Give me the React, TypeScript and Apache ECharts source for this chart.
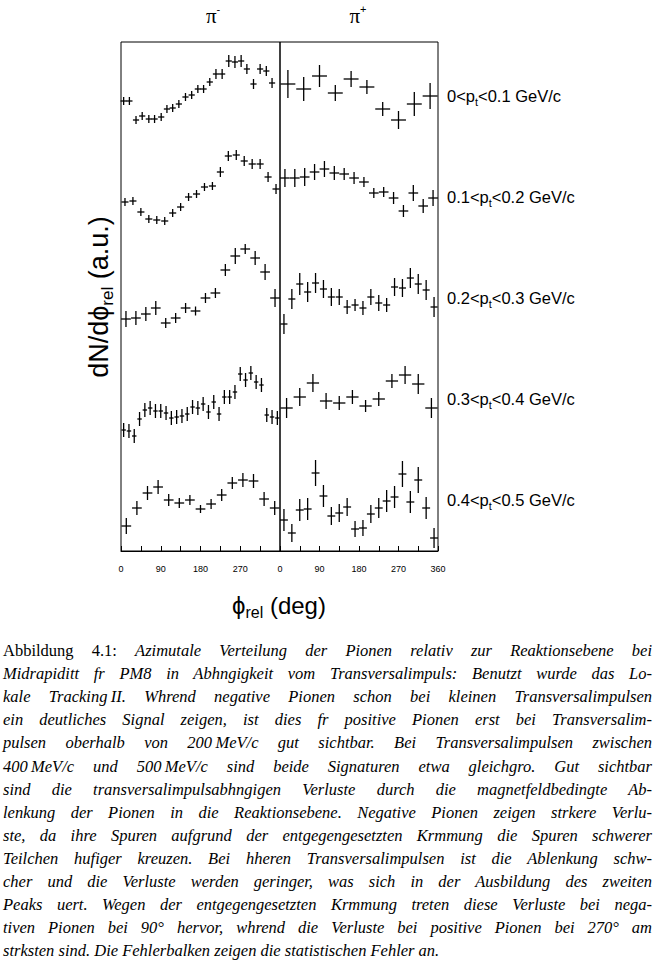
import React, { useEffect, useRef } from 'react';
import * as echarts from 'echarts';

// ---------- axis ----------
const xMin = 0;
const xMax = 360;
const xTickInterval = 45;
const yMax = 509; // arbitrary units (stacked rows)

// ---------- pi- rows ----------
const negRow1X = [6, 19, 34, 48, 63, 76, 91, 104, 117, 131, 146, 160, 174, 187, 201, 215, 229, 244, 258, 272, 285, 300, 315, 329, 342];
const negRow1Y = [450, 450, 431, 435, 432, 432, 434, 442, 443, 447, 454, 456, 462, 462, 469, 477, 477, 490, 489, 490, 482, 467, 482, 480, 468];
const negRow1E = [4, 4, 4, 4, 4, 4, 4, 4, 4, 4, 4, 4, 4, 4, 4, 5, 5, 6, 6, 6, 5, 5, 5, 5, 5];
const negRow1XErr = 7;

const negRow2X = [9, 27, 45, 63, 81, 99, 117, 135, 153, 171, 189, 207, 225, 243, 261, 279, 297, 315, 333, 351];
const negRow2Y = [349, 350, 339, 332, 331, 330, 338, 344, 354, 357, 364, 365, 379, 395, 396, 390, 387, 387, 374, 362];
const negRow2E = [4, 4, 4, 4, 4, 4, 4, 4, 4, 4, 4, 4, 5, 5, 5, 5, 5, 5, 5, 5];
const negRow2XErr = 8;

const negRow3X = [11.25, 33.75, 56.25, 78.75, 101.25, 123.75, 146.25, 168.75, 191.25, 213.75, 236.25, 258.75, 281.25, 303.75, 326.25, 348.75];
const negRow3Y = [232, 233, 237, 243, 228, 233, 243, 240, 253, 258, 281, 295, 302, 293, 279, 253];
const negRow3E = [8, 7, 7, 7, 5, 5, 5, 4.5, 5, 5, 6, 8, 5, 7, 8, 9];
const negRow3XErr = 11;

const negRow4X = [6, 18, 30, 42, 54, 66, 78, 90, 102, 114, 126, 138, 150, 162, 174, 186, 198, 210, 222, 234, 246, 258, 270, 282, 294, 306, 318, 330, 342, 354];
const negRow4Y = [121, 120, 115, 132, 141, 143, 140, 140, 138, 133, 134, 135, 137, 144, 143, 147, 139, 149, 137, 154, 154, 159, 177, 171, 178, 169, 166, 136, 134, 133];
const negRow4E = [7, 7, 7, 7, 7, 7, 7, 7, 7, 7, 7, 7, 7, 7, 7, 7, 7, 7, 7, 7, 7, 7, 7, 7, 7, 7, 7, 7, 7, 7];
const negRow4XErr = 5;

const negRow5X = [12, 36, 60, 84, 108, 132, 156, 180, 204, 228, 252, 276, 300, 324, 348];
const negRow5Y = [25, 43, 58, 64, 51, 48, 51, 42, 47, 56, 68, 71, 70, 52, 43];
const negRow5E = [8, 7, 7, 7, 6, 5, 5, 4, 5, 6, 6, 7, 7, 7, 7];
const negRow5XErr = 11;

// ---------- pi+ rows ----------
const posRow1X = [18, 54, 90, 126, 162, 198, 234, 270, 306, 342];
const posRow1Y = [467, 462, 475, 458, 472, 464, 442, 431, 447, 455];
const posRow1E = [14, 12, 11, 8, 8, 7, 7, 9, 12, 13];
const posRow1XErr = 17;

const posRow2X = [11.25, 33.75, 56.25, 78.75, 101.25, 123.75, 146.25, 168.75, 191.25, 213.75, 236.25, 258.75, 281.25, 303.75, 326.25, 348.75];
const posRow2Y = [373, 373, 374, 379, 382, 378, 377, 373, 369, 358, 359, 353, 340, 358, 345, 353];
const posRow2E = [9, 9, 9, 8, 8, 7, 6, 6, 5, 5, 5, 6, 6, 8, 7, 8];
const posRow2XErr = 11;

const posRow3X = [9, 27, 45, 63, 81, 99, 117, 135, 153, 171, 189, 207, 225, 243, 261, 279, 297, 315, 333, 351];
const posRow3Y = [227, 252, 267, 259, 268, 262, 254, 254, 244, 246, 243, 254, 248, 246, 264, 263, 273, 267, 261, 244];
const posRow3E = [10, 10, 11, 10, 10, 9, 9, 8, 7, 6, 7, 8, 8, 7, 9, 9, 10, 10, 10, 10];
const posRow3XErr = 8;

const posRow4X = [15, 45, 75, 105, 135, 165, 195, 225, 255, 285, 315, 345];
const posRow4Y = [143, 154, 168, 150, 148, 154, 145, 152, 170, 176, 167, 143];
const posRow4E = [10, 9, 9, 8, 7, 7, 6, 7, 7, 9, 10, 10];
const posRow4XErr = 14;

const posRow5X = [9, 27, 45, 63, 81, 99, 117, 135, 153, 171, 189, 207, 225, 243, 261, 279, 297, 315, 333, 351];
const posRow5Y = [31, 18, 41, 42, 78, 55, 35, 38, 44, 22, 23, 37, 43, 50, 54, 77, 49, 71, 43, 13];
const posRow5E = [11, 9, 11, 11, 13, 11, 9, 9, 9, 8, 8, 9, 10, 11, 11, 13, 11, 13, 11, 10];
const posRow5XErr = 9;

// ---------- texts ----------
const ptLows = ['0', '0.1', '0.2', '0.3', '0.4'];
const ptHighs = ['0.1', '0.2', '0.3', '0.4', '0.5'];
const captionLabel = 'Abbildung 4.1:';
const captionLines = [
  'Azimutale Verteilung der Pionen relativ zur Reaktionsebene bei',
  'Midrapiditt fr PM8 in Abhngigkeit vom Transversalimpuls: Benutzt wurde das Lo-',
  'kale Tracking\u2009II. Whrend negative Pionen schon bei kleinen Transversalimpulsen',
  'ein deutliches Signal zeigen, ist dies fr positive Pionen erst bei Transversalim-',
  'pulsen oberhalb von 200\u2009MeV/c gut sichtbar. Bei Transversalimpulsen zwischen',
  '400\u2009MeV/c und 500\u2009MeV/c sind beide Signaturen etwa gleichgro. Gut sichtbar',
  'sind die transversalimpulsabhngigen Verluste durch die magnetfeldbedingte Ab-',
  'lenkung der Pionen in die Reaktionsebene. Negative Pionen zeigen strkere Verlu-',
  'ste, da ihre Spuren aufgrund der entgegengesetzten Krmmung die Spuren schwerer',
  'Teilchen hufiger kreuzen. Bei hheren Transversalimpulsen ist die Ablenkung schw-',
  'cher und die Verluste werden geringer, was sich in der Ausbildung des zweiten',
  'Peaks uert. Wegen der entgegengesetzten Krmmung treten diese Verluste bei nega-',
  'tiven Pionen bei 90\u00b0 hervor, whrend die Verluste bei positive Pionen bei 270\u00b0 am',
  'strksten sind. Die Fehlerbalken zeigen die statistischen Fehler an.',
];

const negRows = [
  [negRow1X, negRow1Y, negRow1E, negRow1XErr],
  [negRow2X, negRow2Y, negRow2E, negRow2XErr],
  [negRow3X, negRow3Y, negRow3E, negRow3XErr],
  [negRow4X, negRow4Y, negRow4E, negRow4XErr],
  [negRow5X, negRow5Y, negRow5E, negRow5XErr],
] as any[];
const posRows = [
  [posRow1X, posRow1Y, posRow1E, posRow1XErr],
  [posRow2X, posRow2Y, posRow2E, posRow2XErr],
  [posRow3X, posRow3Y, posRow3E, posRow3XErr],
  [posRow4X, posRow4Y, posRow4E, posRow4XErr],
  [posRow5X, posRow5Y, posRow5E, posRow5XErr],
] as any[];

function buildData(rows: any[]) {
  const out: number[][] = [];
  rows.forEach((r) => {
    const [xs, ys, es, ex] = r;
    xs.forEach((x: number, i: number) => out.push([x, ys[i], ex, es[i]]));
  });
  return out;
}

const renderCross = (params: any, api: any) => {
  const x = api.value(0);
  const y = api.value(1);
  const ex = api.value(2);
  const ey = api.value(3);
  const a = api.coord([x - ex, y]);
  const b = api.coord([x + ex, y]);
  const c = api.coord([x, y - ey]);
  const d = api.coord([x, y + ey]);
  const st = { stroke: '#000', lineWidth: 1.3 };
  return {
    type: 'group',
    children: [
      { type: 'line', shape: { x1: a[0], y1: a[1], x2: b[0], y2: b[1] }, style: st },
      { type: 'line', shape: { x1: c[0], y1: c[1], x2: d[0], y2: d[1] }, style: st },
    ],
  };
};

const FRAME_TOP = 42;
const FRAME_H = 509;

function makeXAxis(gridIndex: number, showLast: boolean) {
  return {
    type: 'value',
    gridIndex,
    min: xMin,
    max: xMax,
    interval: xTickInterval,
    axisLine: { show: true, lineStyle: { color: '#000', width: 1 } },
    axisTick: { show: true, inside: true, length: 5, lineStyle: { color: '#000', width: 1 } },
    splitLine: { show: false },
    axisLabel: {
      show: true,
      margin: 13,
      fontSize: 9,
      fontFamily: 'Liberation Sans',
      color: '#000',
      showMinLabel: true,
      showMaxLabel: showLast,
      formatter: (v: number) => (v % 90 === 0 && (showLast || v < 360) ? String(v) : ''),
    },
  };
}

function makeYAxis(gridIndex: number) {
  return {
    type: 'value',
    gridIndex,
    min: 0,
    max: yMax,
    show: false,
  };
}

export default function App() {
  const ref = useRef<HTMLDivElement>(null);

  useEffect(() => {
    if (!ref.current) return;
    const chart = echarts.init(ref.current, undefined, { renderer: 'svg' });

    const sansRich = {
      n: { fontSize: 16.5, lineHeight: 22, fontFamily: 'Liberation Sans', color: '#000', verticalAlign: 'middle' },
      s: { fontSize: 11, lineHeight: 11, fontFamily: 'Liberation Sans', color: '#000', verticalAlign: 'bottom' },
    };
    const rowCenters = [96, 197, 298, 399, 500];
    const ptTexts = ptLows.map((lo, i) => ({
      type: 'text',
      x: 447,
      y: rowCenters[i],
      style: {
        text: `{n|${lo}<p}{s|t}{n|<${ptHighs[i]} GeV/c}`,
        rich: sansRich,
        verticalAlign: 'middle',
        align: 'left',
      },
    }));

    const piRich = {
      a: { fontSize: 21, lineHeight: 26, fontFamily: 'Liberation Serif', color: '#000', verticalAlign: 'middle' },
      b: { fontSize: 11, lineHeight: 12, fontFamily: 'Liberation Sans', color: '#000', verticalAlign: 'top' },
    };

    const option: any = {
      animation: false,
      grid: [
        { left: 121, top: FRAME_TOP, width: 159, height: FRAME_H, show: true, borderColor: '#000', borderWidth: 1, backgroundColor: 'transparent' },
        { left: 280, top: FRAME_TOP, width: 158, height: FRAME_H, show: true, borderColor: '#000', borderWidth: 1, backgroundColor: 'transparent' },
      ],
      xAxis: [makeXAxis(0, false), makeXAxis(1, true)],
      yAxis: [makeYAxis(0), makeYAxis(1)],
      series: [
        {
          type: 'custom',
          name: 'pi-',
          xAxisIndex: 0,
          yAxisIndex: 0,
          renderItem: renderCross,
          data: buildData(negRows),
          encode: { x: 0, y: 1 },
          clip: false,
          silent: true,
        },
        {
          type: 'custom',
          name: 'pi+',
          xAxisIndex: 1,
          yAxisIndex: 1,
          renderItem: renderCross,
          data: buildData(posRows),
          encode: { x: 0, y: 1 },
          clip: false,
          silent: true,
        },
      ],
      graphic: [
        {
          type: 'text',
          x: 213,
          y: 16,
          style: { text: '{a|π}{b|-}', rich: piRich, align: 'center', verticalAlign: 'middle' },
        },
        {
          type: 'text',
          x: 358,
          y: 16,
          style: { text: '{a|π}{b|+}', rich: piRich, align: 'center', verticalAlign: 'middle' },
        },
        ...ptTexts,
        {
          type: 'text',
          x: 99,
          y: 297,
          rotation: Math.PI / 2,
          style: {
            text: '{n|dN/dϕ}{s|rel}{n| (a.u.)}',
            rich: {
              n: { fontSize: 27, lineHeight: 34, fontFamily: 'Liberation Sans', color: '#000', verticalAlign: 'middle' },
              s: { fontSize: 17, lineHeight: 17, fontFamily: 'Liberation Sans', color: '#000', verticalAlign: 'bottom' },
            },
            align: 'center',
            verticalAlign: 'middle',
          },
        },
        {
          type: 'text',
          x: 279,
          y: 605,
          style: {
            text: '{n|ϕ}{s|rel}{n| (deg)}',
            rich: {
              n: { fontSize: 24, lineHeight: 30, fontFamily: 'Liberation Sans', color: '#000', verticalAlign: 'middle' },
              s: { fontSize: 16, lineHeight: 16, fontFamily: 'Liberation Sans', color: '#000', verticalAlign: 'bottom' },
            },
            align: 'center',
            verticalAlign: 'middle',
          },
        },
      ],
    };
    chart.setOption(option);
    return () => chart.dispose();
  }, []);

  const lineTop0 = 651;
  const pitch = 23.1;
  return (
    <div style={{ position: 'absolute', left: 0, top: 0, width: 656, height: 963, background: '#fff', overflow: 'hidden' }}>
      <div ref={ref} style={{ position: 'absolute', left: 0, top: 0, width: 656, height: 630 }} />
      {captionLines.map((line, i) => {
        const last = i === captionLines.length - 1;
        return (
          <div
            key={i}
            style={{
              position: 'absolute',
              left: 3,
              width: 649,
              top: lineTop0 + i * pitch - 11,
              height: 22,
              lineHeight: '22px',
              fontFamily: '"Liberation Serif", serif',
              fontSize: 16.5,
              fontStyle: 'italic',
              color: '#000',
              textAlign: last ? 'left' : 'justify',
              textAlignLast: last ? 'left' : 'justify',
              whiteSpace: 'normal',
            } as any}
          >
            {i === 0 ? <span style={{ fontStyle: 'normal' }}>{captionLabel} </span> : null}
            {line}
          </div>
        );
      })}
    </div>
  );
}
